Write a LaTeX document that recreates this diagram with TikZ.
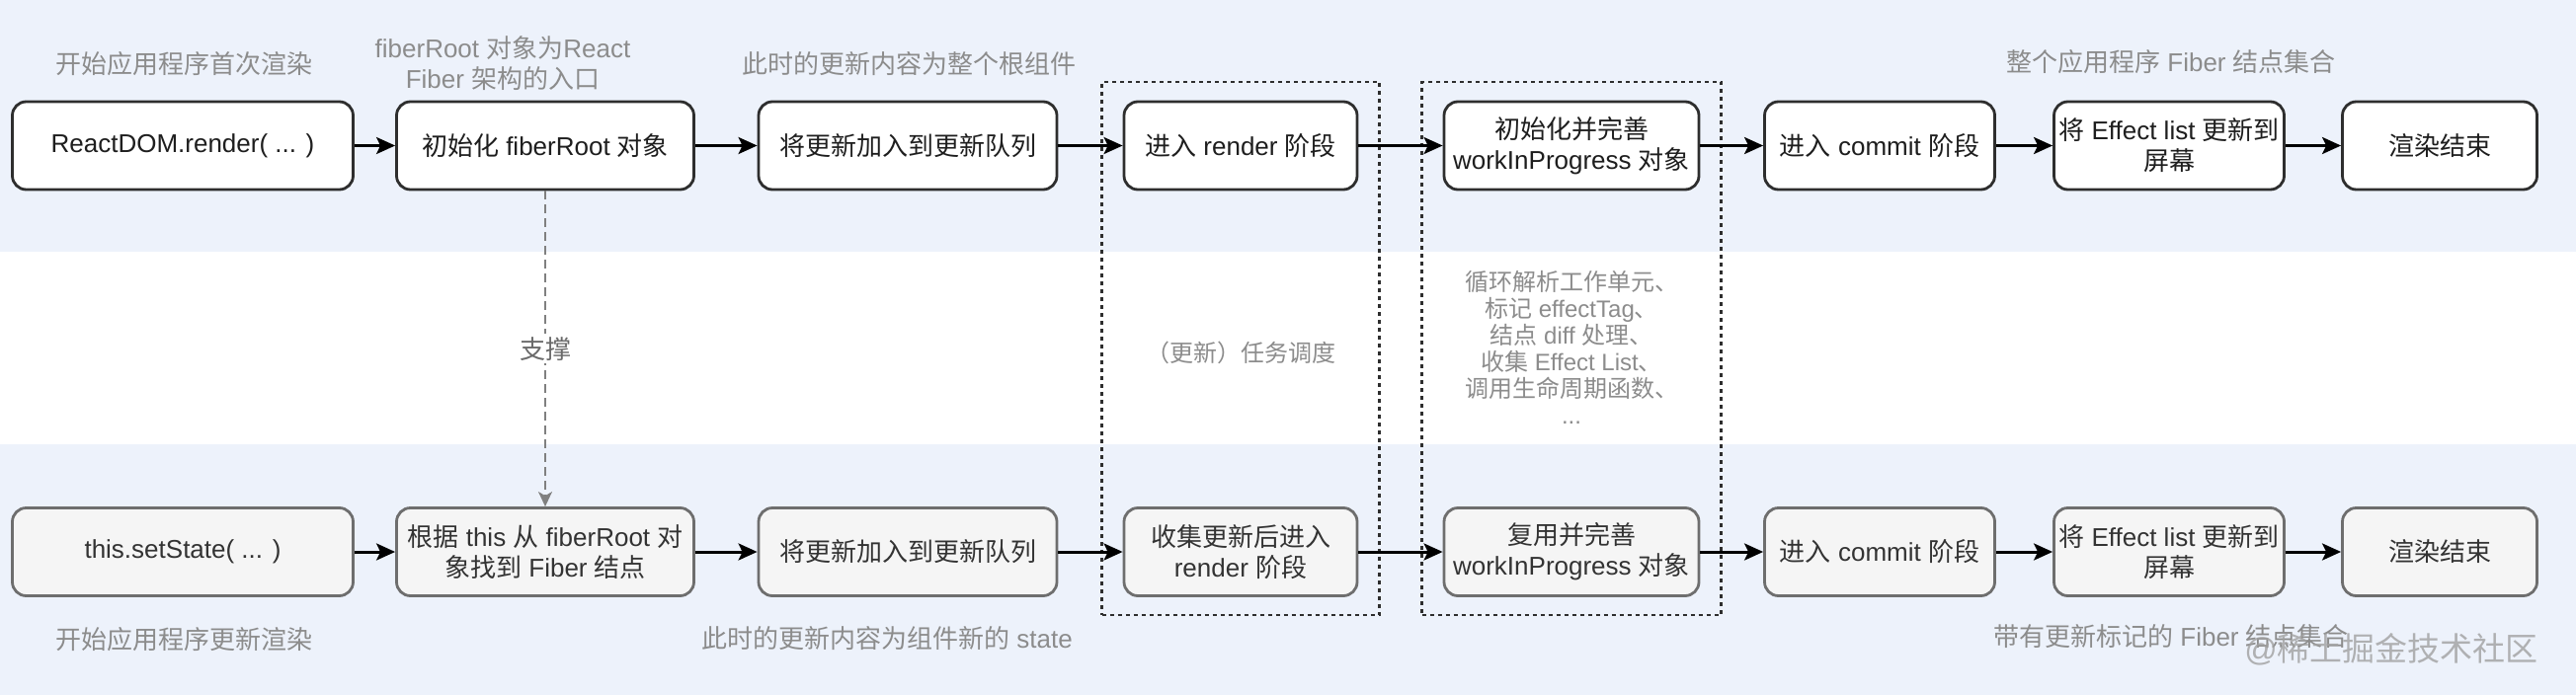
\documentclass[tikz,border=0pt]{standalone}
\usepackage{fontspec}
\setmainfont{Liberation Sans}
\newfontfamily\cjkfont{Noto Sans CJK SC}
\XeTeXinterchartokenstate=1
\newXeTeXintercharclass\CJKcls
\newcount\cjkc
\def\setcjkrange#1#2{\cjkc=#1 \loop \XeTeXcharclass\cjkc=\CJKcls \ifnum\cjkc<#2 \advance\cjkc by 1 \repeat}
\setcjkrange{"3000}{"303F}
\setcjkrange{"4E00}{"9FFF}
\setcjkrange{"FF00}{"FFEF}
\XeTeXinterchartoks 0 \CJKcls = {\cjkfont}
\XeTeXinterchartoks 4095 \CJKcls = {\cjkfont}
\XeTeXinterchartoks \CJKcls 0 = {\rmfamily}
\XeTeXinterchartoks \CJKcls 4095 = {\rmfamily}
\usetikzlibrary{arrows.meta}
\definecolor{bandblue}{HTML}{EDF2FB}
\definecolor{boxline}{HTML}{2E2E2E}
\definecolor{boxtext}{HTML}{1E1E1E}
\definecolor{botline}{HTML}{6E6E6E}
\definecolor{botfill}{HTML}{F5F5F5}
\definecolor{bottext}{HTML}{333333}
\definecolor{lbltext}{HTML}{8C8C8C}
\definecolor{supptext}{HTML}{6A6A6A}
\definecolor{wmtext}{HTML}{A0A0A0}
\newcommand\boxfs{\fontsize{26pt}{31pt}\selectfont}
\newcommand\lblfs{\fontsize{26pt}{31pt}\selectfont}
\newcommand\midfs{\fontsize{24pt}{27pt}\selectfont}
\begin{document}
\begin{tikzpicture}[x=1pt,y=-1pt,
  topbox/.style={draw=boxline, line width=2.8pt, rounded corners=14pt, fill=white,
    minimum height=89pt, inner sep=2pt, align=center, font=\boxfs, text=boxtext},
  botbox/.style={topbox, draw=botline, fill=botfill, text=bottext},
  lbl/.style={align=center, font=\lblfs, text=lbltext, inner sep=0pt},
  midlbl/.style={align=center, font=\midfs, text=lbltext, inner sep=0pt},
  arr/.style={draw=black, line width=3pt, -{Stealth[length=19pt, width=17pt, inset=4pt]}},
  supp/.style={draw=gray, line width=1.6pt, dash pattern=on 9pt off 5pt,
    -{Stealth[length=15pt, width=14pt, inset=4pt]}},
  dotbox/.style={draw=boxline, line width=2.6pt, dash pattern=on 4pt off 4pt, inner sep=0pt}
]
\fill[bandblue] (0,0) rectangle (2608,704);
\fill[white] (0,255) rectangle (2608,450);
\useasboundingbox (0,0) rectangle (2608,704);

% dotted phase frames
\node[dotbox, minimum width=281pt, minimum height=540pt] (d1) at (1256,353) {};
\node[dotbox, minimum width=303pt, minimum height=540pt] (d2) at (1591,353) {};

% top row
\node[topbox, minimum width=345pt] (t1) at (185,147.5) {ReactDOM.render( ... )};
\node[topbox, minimum width=301pt] (t2) at (552,147.5) {初始化 fiberRoot 对象};
\node[topbox, minimum width=302pt] (t3) at (919,147.5) {将更新加入到更新队列};
\node[topbox, minimum width=236pt] (t4) at (1256,147.5) {进入 render 阶段};
\node[topbox, minimum width=258pt] (t5) at (1591,147.5) {初始化并完善\\workInProgress 对象};
\node[topbox, minimum width=233pt] (t6) at (1903,147.5) {进入 commit 阶段};
\node[topbox, minimum width=233pt] (t7) at (2196,147.5) {将 Effect list 更新到\\屏幕};
\node[topbox, minimum width=197pt] (t8) at (2470,147.5) {渲染结束};

% bottom row
\node[botbox, minimum width=345pt] (b1) at (185,559) {this.setState( ... )};
\node[botbox, minimum width=301pt] (b2) at (552,559) {根据 this 从 fiberRoot 对\\象找到 Fiber 结点};
\node[botbox, minimum width=302pt] (b3) at (919,559) {将更新加入到更新队列};
\node[botbox, minimum width=236pt] (b4) at (1256,559) {收集更新后进入\\render 阶段};
\node[botbox, minimum width=258pt] (b5) at (1591,559) {复用并完善\\workInProgress 对象};
\node[botbox, minimum width=233pt] (b6) at (1903,559) {进入 commit 阶段};
\node[botbox, minimum width=233pt] (b7) at (2196,559) {将 Effect list 更新到\\屏幕};
\node[botbox, minimum width=197pt] (b8) at (2470,559) {渲染结束};

% labels top
\node[lbl] (l1) at (186,65) {开始应用程序首次渲染};
\node[lbl] (l2) at (509,64) {fiberRoot 对象为React\\Fiber 架构的入口};
\node[lbl] (l3) at (920,65) {此时的更新内容为整个根组件};
\node[lbl] (l4) at (2198,63) {整个应用程序 Fiber 结点集合};

% labels bottom
\node[lbl] (l5) at (186,648) {开始应用程序更新渲染};
\node[lbl] (l6) at (898,647) {此时的更新内容为组件新的 state};
\node[lbl] (l7) at (2198,645) {带有更新标记的 Fiber 结点集合};

% middle descriptions
\node[midlbl] (m1) at (1256,357) {（更新）任务调度};
\node[midlbl] (m2) at (1591,352) {循环解析工作单元、\\标记 effectTag、\\结点 diff 处理、\\收集 Effect List、\\调用生命周期函数、\\...};

% connectors
\foreach \a/\b in {t1/t2,t2/t3,t3/t4,t4/t5,t5/t6,t6/t7,t7/t8,
                   b1/b2,b2/b3,b3/b4,b4/b5,b5/b6,b6/b7,b7/b8}
  \draw[arr] (\a) -- (\b);
\draw[supp] (t2) -- node[fill=white, inner sep=3pt, font=\lblfs, text=supptext] (s) {支撑} (b2);

% watermark
\node[font=\fontsize{33pt}{36pt}\selectfont, text=wmtext, opacity=0.8, inner sep=0pt] (wm) at (2421,658) {@稀土掘金技术社区};
\end{tikzpicture}
\end{document}
